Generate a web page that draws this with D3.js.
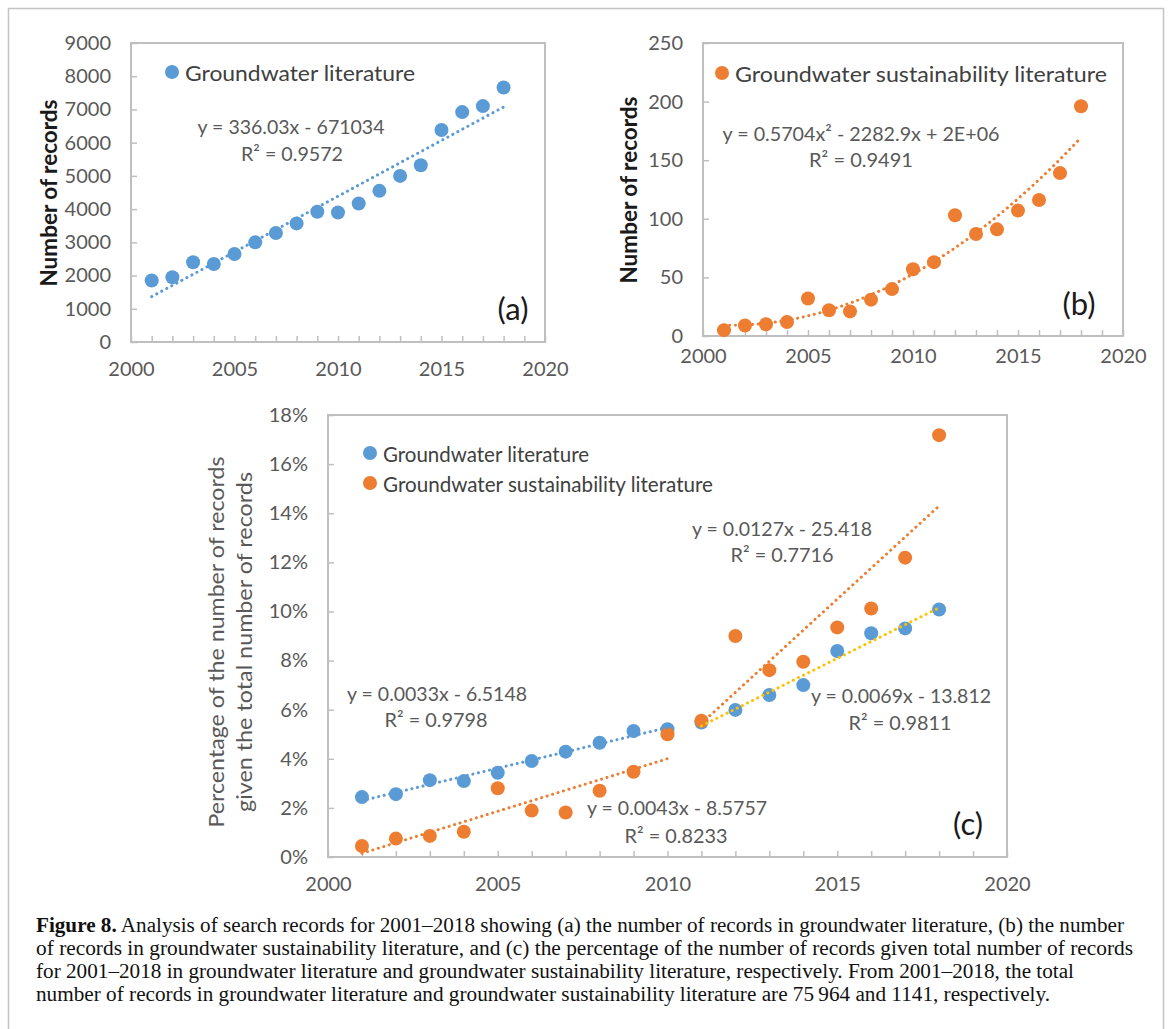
<!DOCTYPE html>
<html>
<head>
<meta charset="utf-8">
<script src="https://cdn.jsdelivr.net/npm/d3@7"></script>
<style>
  body { margin: 0; background: #fff; }
  svg { display: block; }
</style>
</head>
<body>
<script>
/* global d3 */

//* DATA
var years = [2001, 2002, 2003, 2004, 2005, 2006, 2007, 2008, 2009, 2010, 2011, 2012, 2013, 2014, 2015, 2016, 2017, 2018];
var groundwaterRecords = [1850, 1950, 2400, 2350, 2650, 3000, 3280, 3570, 3920, 3900, 4170, 4550, 5000, 5320, 6380, 6920, 7100, 7660];
var sustainabilityRecords = [5, 9, 10, 12, 32, 22, 21, 31, 40, 57, 63, 103, 87, 91, 107, 116, 139, 196];
var groundwaterPct = [2.44, 2.56, 3.13, 3.09, 3.43, 3.91, 4.29, 4.65, 5.13, 5.2, 5.48, 5.99, 6.6, 7.0, 8.39, 9.11, 9.31, 10.08];
var sustainabilityPct = [0.45, 0.75, 0.86, 1.03, 2.8, 1.89, 1.81, 2.7, 3.47, 5.0, 5.55, 9.0, 7.61, 7.95, 9.35, 10.12, 12.19, 17.18];

var yearLabels = [2000, 2005, 2010, 2015, 2020];
var yearTicks = d3.range(2000, 2021);
var countTicksA = [0, 1000, 2000, 3000, 4000, 5000, 6000, 7000, 8000, 9000];
var countTicksB = [0, 50, 100, 150, 200, 250];
var pctTicks = [0, 2, 4, 6, 8, 10, 12, 14, 16, 18];

var seriesNames = ['Groundwater literature', 'Groundwater sustainability literature'];
var equationsA = ['y = 336.03x - 671034', 'R² = 0.9572'];
var equationsB = ['y = 0.5704x² - 2282.9x + 2E+06', 'R² = 0.9491'];
var equationsC = [
	['y = 0.0033x - 6.5148', 'R² = 0.9798'],
	['y = 0.0043x - 8.5757', 'R² = 0.8233'],
	['y = 0.0127x - 25.418', 'R² = 0.7716'],
	['y = 0.0069x - 13.812', 'R² = 0.9811']
];
var captionLines = [
	'Analysis of search records for 2001–2018 showing (a) the number of records in groundwater literature, (b) the number',
	'of records in groundwater sustainability literature, and (c) the percentage of the number of records given total number of records',
	'for 2001–2018 in groundwater literature and groundwater sustainability literature, respectively. From 2001–2018, the total',
	'number of records in groundwater literature and groundwater sustainability literature are 75\u2009964 and 1141, respectively.'
];

var BLUE = '#5B9BD5', ORANGE = '#ED7D31', YELLOW = '#FFC000';
var AXIS = '#BFBFBF', LABEL = '#595959';
var FONT = 'Lato, Calibri, sans-serif';

var svg = d3.select('body').append('svg')
	.attr('width', 1171)
	.attr('height', 1029);

//* outer frame
svg.append('rect')
	.attr('x', 8.5).attr('y', 8.5)
	.attr('width', 1155).attr('height', 1040)
	.attr('fill', 'none')
	.attr('stroke', '#C4C4C4')
	.attr('stroke-width', 1.5);

// least squares line, returns function of year
function linFit(xs, ys) {
	var mx = d3.mean(xs), my = d3.mean(ys);
	var sxy = d3.sum(xs, function(x, i) { return (x - mx) * (ys[i] - my); });
	var sxx = d3.sum(xs, function(x) { return (x - mx) * (x - mx); });
	var b = sxy / sxx;
	return function(x) { return my + b * (x - mx); };
}

// least squares parabola (centred on the mean year)
function quadFit(xs, ys) {
	var mx = d3.mean(xs);
	var t = xs.map(function(x) { return x - mx; });
	var S = function(p, q) { return d3.sum(t, function(v, i) { return Math.pow(v, p) * (q ? ys[i] : 1); }); };
	var m = [
		[S(0), S(1), S(2), S(0, 1)],
		[S(1), S(2), S(3), S(1, 1)],
		[S(2), S(3), S(4), S(2, 1)]
	];
	for (var i = 0; i < 3; i++) {
		for (var k = i + 1; k < 3; k++) {
			var f = m[k][i] / m[i][i];
			for (var j = i; j < 4; j++) m[k][j] -= f * m[i][j];
		}
	}
	var c = [0, 0, 0];
	for (i = 2; i >= 0; i--) {
		var s = m[i][3];
		for (j = i + 1; j < 3; j++) s -= m[i][j] * c[j];
		c[i] = s / m[i][i];
	}
	return function(x) { var v = x - mx; return c[0] + c[1] * v + c[2] * v * v; };
}

function addText(x, y, str, o) {
	o = o || {};
	var t = svg.append('text')
		.attr('x', x)
		.attr('y', y)
		.attr('font-family', o.font || FONT)
		.attr('font-size', o.size || 20)
		.attr('font-weight', o.weight || 'normal')
		.attr('fill', o.color || LABEL)
		.attr('dominant-baseline', 'central')
		.style('text-anchor', o.anchor || 'middle')
		.text(str);
	if (o.width) t.attr('textLength', o.width).attr('lengthAdjust', 'spacingAndGlyphs');
	if (o.rotate) t.attr('transform', 'rotate(-90,' + x + ',' + y + ')');
	return t;
}

//* PANEL (axes + border), returns scales
function makePanel(o) {
	var x = d3.scaleLinear().domain([2000, 2020]).range([o.left, o.right]);
	var y = d3.scaleLinear().domain([0, o.yMax]).range([o.bottom, o.top]);

	svg.append('rect')
		.attr('x', o.left).attr('y', o.top)
		.attr('width', o.right - o.left).attr('height', o.bottom - o.top)
		.attr('fill', 'none')
		.attr('stroke', AXIS)
		.attr('stroke-width', 2);

	var gx = svg.append('g')
		.attr('transform', 'translate(0,' + o.bottom + ')')
		.call(d3.axisBottom(x)
			.tickValues(yearTicks)
			.tickSizeInner(-6).tickSizeOuter(0)
			.tickPadding(o.xPad)
			.tickFormat(function(d) { return yearLabels.indexOf(d) >= 0 ? d : ''; }));

	var gy = svg.append('g')
		.attr('transform', 'translate(' + o.left + ',0)')
		.call(d3.axisLeft(y)
			.tickValues(o.yTicks)
			.tickSizeInner(-6).tickSizeOuter(0)
			.tickPadding(o.yPad)
			.tickFormat(o.yFormat || function(d) { return d; }));

	[gx, gy].forEach(function(g) {
		g.select('.domain').remove();
		g.selectAll('line').attr('stroke', AXIS).attr('stroke-width', 1.5);
		g.selectAll('text')
			.attr('font-family', FONT)
			.attr('font-size', 20)
			.attr('fill', LABEL);
	});

	return { x: x, y: y };
}

function drawPoints(p, xs, ys, color) {
	svg.append('g').selectAll('circle')
		.data(xs)
		.enter().append('circle')
		.attr('cx', function(d) { return p.x(d); })
		.attr('cy', function(d, i) { return p.y(ys[i]); })
		.attr('r', 7)
		.attr('fill', color);
}

function drawTrend(p, fit, x0, x1, color, step) {
	var pts = d3.range(x0, x1 + 1e-9, step || (x1 - x0));
	svg.append('path')
		.datum(pts)
		.attr('d', d3.line()
			.x(function(d) { return p.x(d); })
			.y(function(d) { return p.y(fit(d)); }))
		.attr('fill', 'none')
		.attr('stroke', color)
		.attr('stroke-width', 3)
		.attr('stroke-linecap', 'round')
		.attr('stroke-dasharray', '0.1,5.6');
}

function legendItem(cx, cy, color, str, width, size) {
	svg.append('circle').attr('cx', cx).attr('cy', cy).attr('r', 7).attr('fill', color);
	addText(cx + 13, cy, str, { anchor: 'start', width: width, size: size || 22, color: '#404040' });
}

//* (a) GROUNDWATER RECORDS
var pa = makePanel({ left: 131, right: 545, top: 43, bottom: 342, yMax: 9000, yTicks: countTicksA, xPad: 20, yPad: 20 });
drawPoints(pa, years, groundwaterRecords, BLUE);
drawTrend(pa, linFit(years, groundwaterRecords), 2001, 2018, BLUE);
legendItem(172, 72, BLUE, seriesNames[0], 230);
addText(291, 126, equationsA[0], { width: 187 });
addText(292, 153, equationsA[1], { width: 102 });
addText(513, 308, '(a)', { size: 31, color: '#1a1a1a' });
addText(48, 193, 'Number of records', { size: 22, weight: 'bold', color: '#1a1a1a', rotate: true, width: 187 });

//* (b) SUSTAINABILITY RECORDS
var pb = makePanel({ left: 703, right: 1123, top: 43, bottom: 336, yMax: 250, yTicks: countTicksB, xPad: 13, yPad: 20 });
drawPoints(pb, years, sustainabilityRecords, ORANGE);
drawTrend(pb, quadFit(years, sustainabilityRecords), 2001, 2018, ORANGE, 0.1);
legendItem(722, 73, ORANGE, seriesNames[1], 372);
addText(861, 133, equationsB[0], { width: 277 });
addText(861, 159, equationsB[1], { width: 104 });
addText(1079, 303, '(b)', { size: 31, color: '#1a1a1a' });
addText(628, 190, 'Number of records', { size: 22, weight: 'bold', color: '#1a1a1a', rotate: true, width: 187 });

//* (c) PERCENTAGES
var pc = makePanel({ left: 328, right: 1007, top: 415, bottom: 857, yMax: 18, yTicks: pctTicks, xPad: 20, yPad: 20,
	yFormat: function(d) { return d + '%'; } });
drawPoints(pc, years, groundwaterPct, BLUE);
drawPoints(pc, years, sustainabilityPct, ORANGE);

var early = years.slice(0, 10), late = years.slice(10);
drawTrend(pc, linFit(early, groundwaterPct.slice(0, 10)), 2001, 2010, BLUE);
drawTrend(pc, linFit(early, sustainabilityPct.slice(0, 10)), 2001, 2010, ORANGE);
drawTrend(pc, linFit(late, sustainabilityPct.slice(10)), 2011, 2018, ORANGE);
drawTrend(pc, linFit(late, groundwaterPct.slice(10)), 2011, 2018, YELLOW);

legendItem(370, 453, BLUE, seriesNames[0], 206, 21);
legendItem(370, 483, ORANGE, seriesNames[1], 330, 21);

var eqPos = [[437, 693, 436, 719], [677, 807, 676, 835], [782, 528, 782, 554], [901, 695, 900, 722]];
equationsC.forEach(function(eq, i) {
	var q = eqPos[i];
	addText(q[0], q[1], eq[0], { width: 180 });
	addText(q[2], q[3], eq[1], { width: 103 });
});
addText(968, 823, '(c)', { size: 31, color: '#1a1a1a' });
addText(215, 642, 'Percentage of the number of records', { size: 21, rotate: true, width: 371 });
addText(243, 642, 'given the total number of records', { size: 21, rotate: true, width: 340 });

//* CAPTION
var captionWidths = [1088, 1097, 1038, 1014];
captionLines.forEach(function(line, i) {
	var t = svg.append('text')
		.attr('x', 36)
		.attr('y', 932 + i * 23)
		.attr('font-family', '"Liberation Serif", "Times New Roman", serif')
		.attr('font-size', 20)
		.attr('fill', '#111')
		.attr('textLength', captionWidths[i])
		.attr('lengthAdjust', 'spacingAndGlyphs');
	if (i === 0) {
		t.append('tspan').attr('font-weight', 'bold').text('Figure 8.');
		t.append('tspan').text(' ' + line);
	} else {
		t.text(line);
	}
});
</script>
</body>
</html>
